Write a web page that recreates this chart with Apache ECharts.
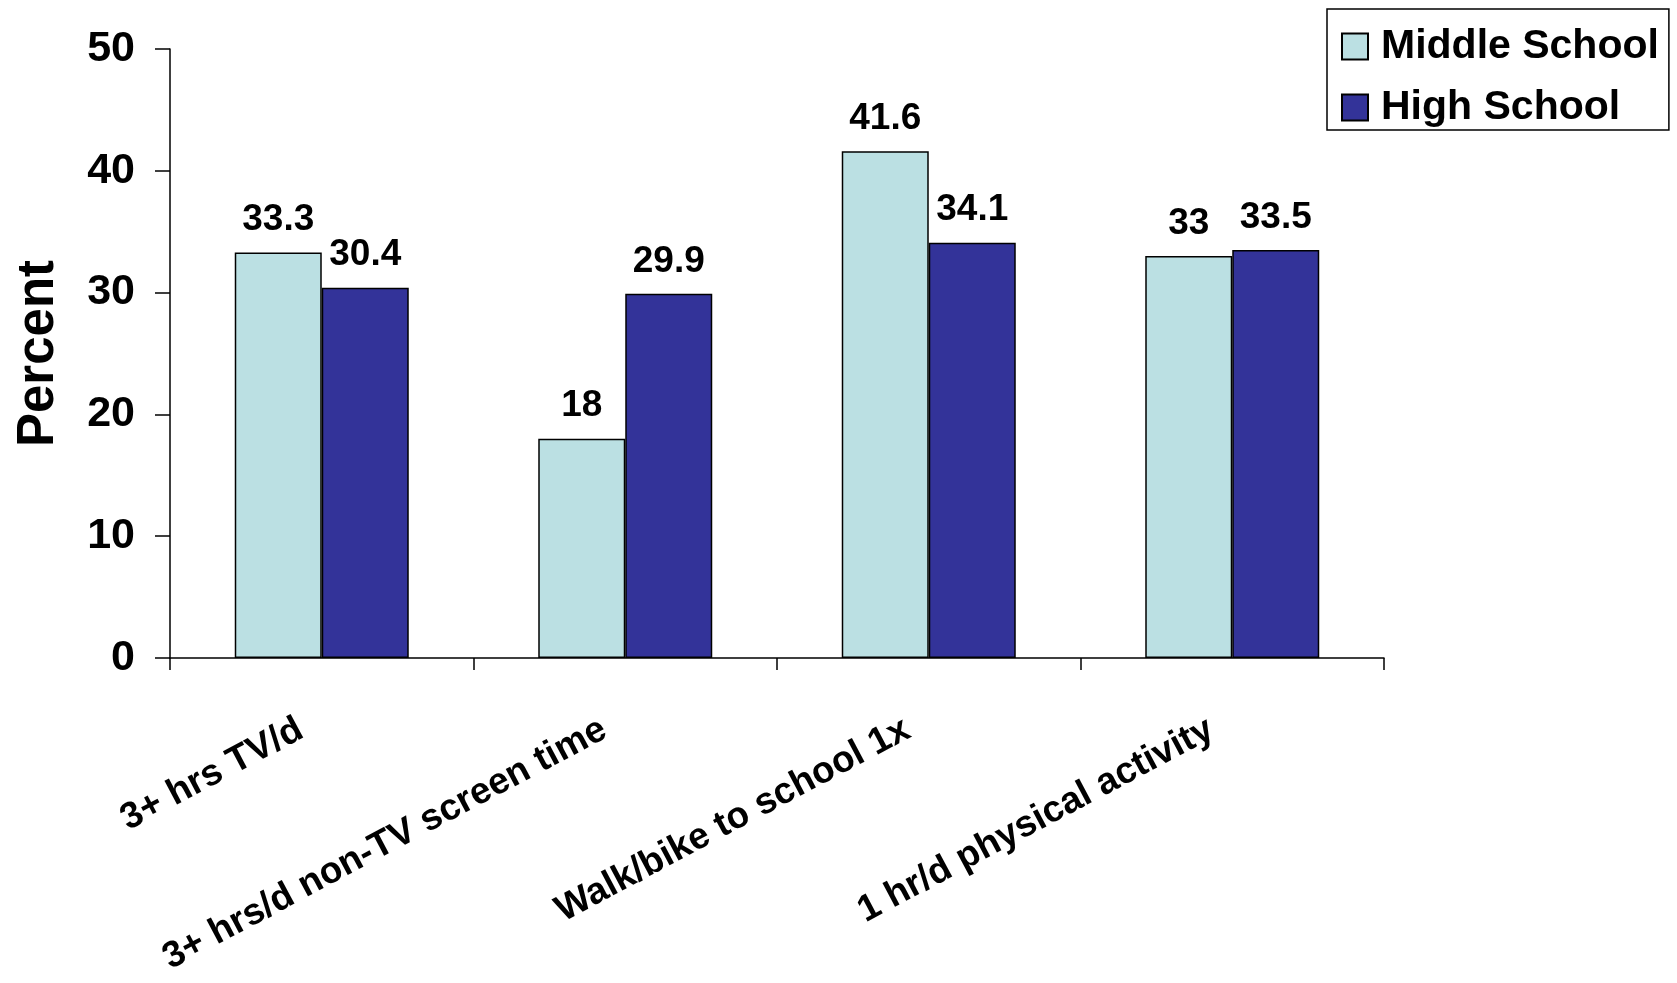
<!DOCTYPE html>
<html>
<head>
<meta charset="utf-8">
<script src="https://cdn.jsdelivr.net/npm/echarts@6/dist/echarts.min.js"></script>
<style>
html,body{margin:0;padding:0;background:#fff;}
#chart{width:1677px;height:983px;}
</style>
</head>
<body>
<div id="chart"></div>
<script>
var categories = ['3+ hrs TV/d', '3+ hrs/d non-TV screen time', 'Walk/bike to school 1x', '1 hr/d physical activity'];
var seriesNames = ['Middle School', 'High School'];
var middleSchool = [33.3, 18, 41.6, 33];
var highSchool = [30.4, 29.9, 34.1, 33.5];
var yTicks = [0, 10, 20, 30, 40, 50];

var FONT = '"Liberation Sans", Arial, Helvetica, sans-serif';
var chart = echarts.init(document.getElementById('chart'));
var labelCfg = {
  show: true, position: 'top', distance: 14,
  color: '#000', fontFamily: FONT, fontWeight: 'bold', fontSize: 37,
  formatter: function (p) { return String(p.value); }
};
chart.setOption({
  animation: false,
  backgroundColor: '#fff',
  grid: { left: 170, right: 293, top: 49, bottom: 325, containLabel: false },
  legend: {
    orient: 'vertical', left: 1327, top: 9,
    padding: [17, 10, 2, 14],
    itemGap: 20, itemWidth: 26, itemHeight: 26,
    borderColor: '#000', borderWidth: 1.5,
    icon: 'rect',
    textStyle: { fontFamily: FONT, fontWeight: 'bold', fontSize: 41, color: '#000', padding: [0, 0, 0, 8] },
    data: seriesNames
  },
  xAxis: {
    type: 'category', data: categories, boundaryGap: true,
    axisLine: { lineStyle: { color: '#000', width: 1.5 } },
    axisTick: { show: true, length: 12, alignWithLabel: false, lineStyle: { color: '#000', width: 1.5 } },
    axisLabel: {
      interval: 0, rotate: 28, margin: 58, padding: [0, 24, 0, 0],
      color: '#000', fontFamily: FONT, fontWeight: 'bold', fontSize: 37
    },
    splitLine: { show: false }
  },
  yAxis: {
    type: 'value', min: yTicks[0], max: yTicks[yTicks.length - 1], interval: 10,
    name: 'Percent', nameLocation: 'middle', nameRotate: 90, nameGap: 106,
    nameTextStyle: { color: '#000', fontFamily: FONT, fontWeight: 'bold', fontSize: 51 },
    axisLine: { show: true, lineStyle: { color: '#000', width: 1.5 } },
    axisTick: { show: true, length: 15, lineStyle: { color: '#000', width: 1.5 } },
    axisLabel: { margin: 35, color: '#000', fontFamily: FONT, fontWeight: 'bold', fontSize: 43 },
    splitLine: { show: false }
  },
  series: [
    {
      name: seriesNames[0], type: 'bar', data: middleSchool,
      barWidth: 87, barGap: '0%',
      itemStyle: { color: '#BBE0E3', borderColor: '#000', borderWidth: 1.5 },
      label: labelCfg
    },
    {
      name: seriesNames[1], type: 'bar', data: highSchool,
      barWidth: 87, barGap: '0%',
      itemStyle: { color: '#333399', borderColor: '#000', borderWidth: 1.5 },
      label: labelCfg
    }
  ]
});
</script>
</body>
</html>
